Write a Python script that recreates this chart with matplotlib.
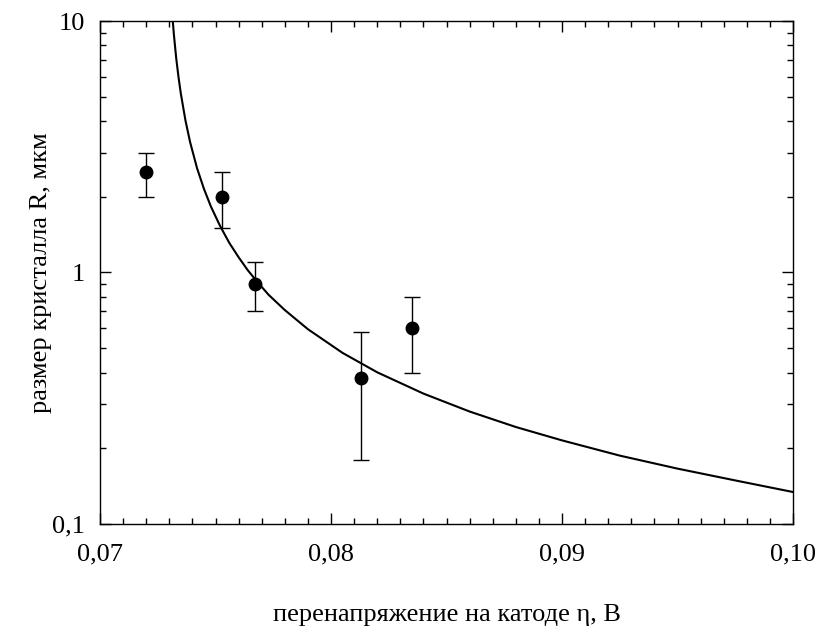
import matplotlib
matplotlib.use('Agg')
import matplotlib.pyplot as plt
from matplotlib.ticker import FixedLocator, MultipleLocator, LogLocator, NullFormatter

plt.rcParams['font.family'] = ['Liberation Serif', 'DejaVu Serif']

# measured points with error bars
eta = [0.0720, 0.0753, 0.0767, 0.0813, 0.0835]
R = [2.5, 2.0, 0.9, 0.38, 0.60]
R_hi = [3.0, 2.5, 1.1, 0.58, 0.80]
R_lo = [2.0, 1.5, 0.7, 0.18, 0.40]

# curve
curve_eta = [0.07315, 0.0732, 0.0733, 0.0734, 0.0735, 0.0737, 0.0739, 0.0742,
             0.0745, 0.0748, 0.0752, 0.0756, 0.0760, 0.0764, 0.0768, 0.0773,
             0.0780, 0.0790, 0.0805, 0.0820, 0.0840, 0.0860, 0.0880, 0.0900,
             0.0925, 0.0950, 0.0975, 0.1000]
curve_R = [10.0, 8.8, 7.1, 5.97, 5.14, 4.02, 3.3, 2.6,
           2.15, 1.83, 1.53, 1.31, 1.15, 1.02, 0.92, 0.815,
           0.709, 0.595, 0.479, 0.401, 0.330, 0.280, 0.243, 0.215,
           0.187, 0.166, 0.149, 0.134]

xticks = [0.07, 0.08, 0.09, 0.10]
xlabels = ['0,07', '0,08', '0,09', '0,10']
yticks = [0.1, 1, 10]
ylabels = ['0,1', '1', '10']

fig = plt.figure(figsize=(8.19, 6.31), dpi=100)
ax = fig.add_axes([0.1221, 0.1696, 0.8462, 0.7971])

ax.plot(curve_eta, curve_R, color='black', lw=1.5)
err = [[r - lo for r, lo in zip(R, R_lo)], [hi - r for r, hi in zip(R, R_hi)]]
ax.errorbar(eta, R, yerr=err, fmt='o', color='black', ms=9,
            ecolor='black', elinewidth=1, capsize=6, capthick=1)

ax.set_yscale('log')
ax.set_xlim(0.07, 0.10)
ax.set_ylim(0.1, 10)

ax.xaxis.set_major_locator(FixedLocator(xticks))
ax.set_xticklabels(xlabels)
ax.xaxis.set_minor_locator(MultipleLocator(0.001))
ax.yaxis.set_major_locator(FixedLocator(yticks))
ax.set_yticklabels(ylabels)
ax.yaxis.set_minor_locator(LogLocator(base=10, subs=range(2, 10)))
ax.yaxis.set_minor_formatter(NullFormatter())

ax.tick_params(which='both', direction='in', top=True, right=True, labelsize=19)
ax.tick_params(which='major', length=8, width=1)
ax.tick_params(which='minor', length=4, width=1)
ax.tick_params(axis='x', which='major', pad=14)
ax.tick_params(axis='y', which='major', pad=11)
for s in ax.spines.values():
    s.set_linewidth(1)

ax.set_xlabel('перенапряжение на катоде η, В', fontsize=19, labelpad=28)
ax.set_ylabel('размер кристалла R, мкм', fontsize=19, labelpad=0)

fig.savefig('out.png', dpi=100)
